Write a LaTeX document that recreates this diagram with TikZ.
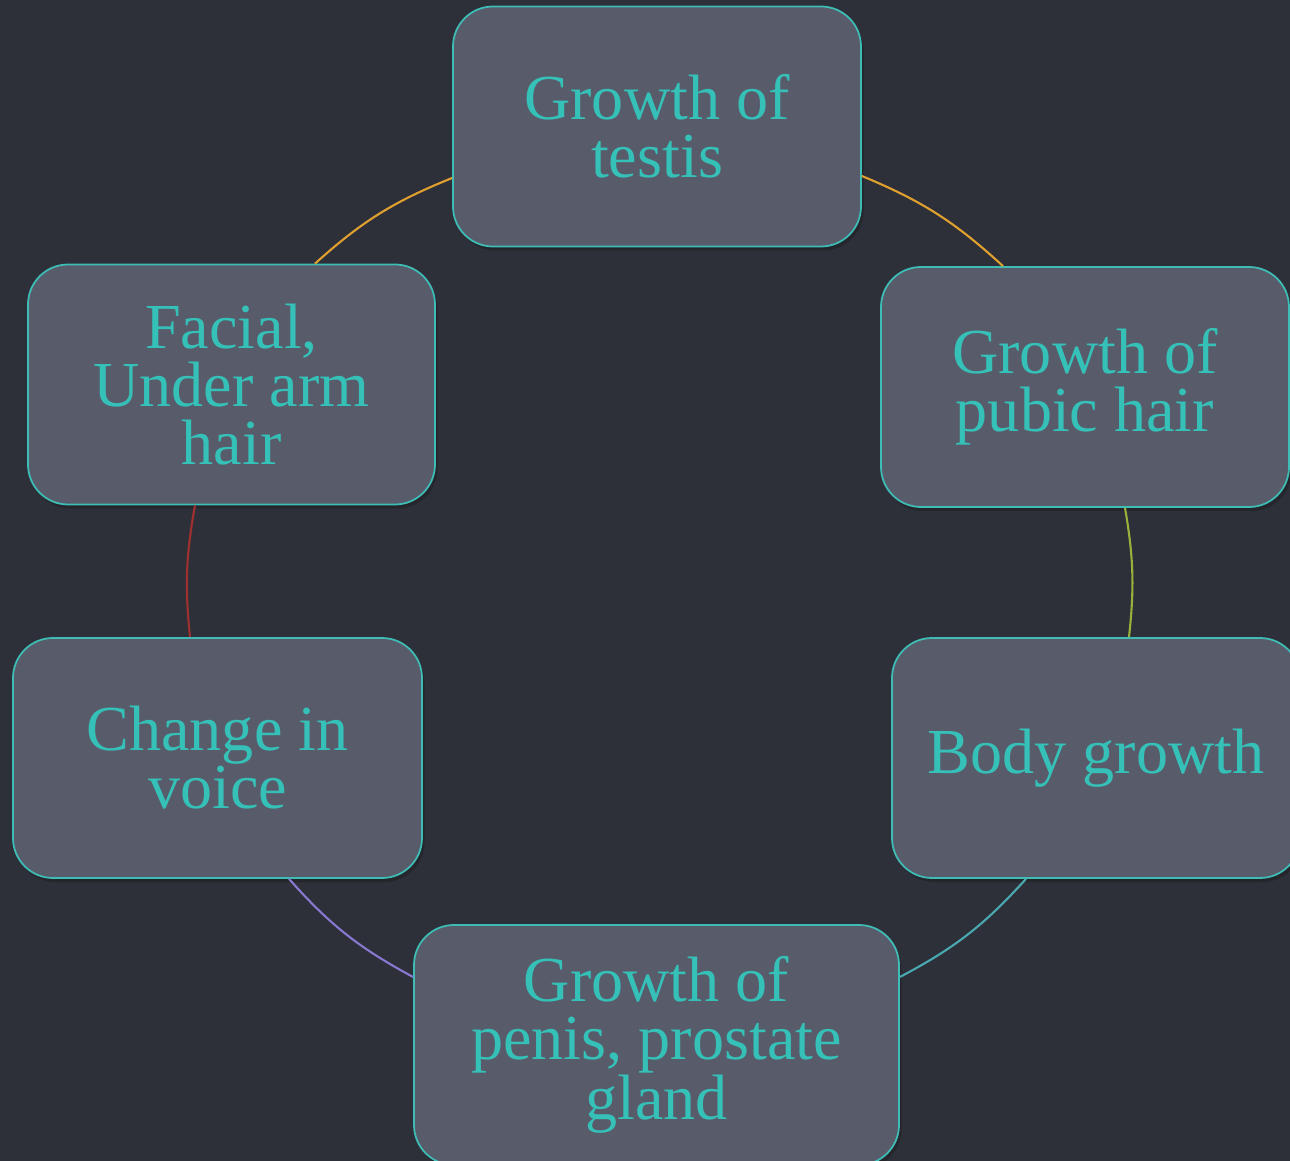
\documentclass[tikz,border=0pt]{standalone}
\usepackage{fontspec}
\setmainfont{Liberation Serif}
\usetikzlibrary{positioning,calc,shadows}

\definecolor{bgdark}{HTML}{2D3038}
\definecolor{boxfill}{HTML}{585B6A}
\definecolor{boxline}{HTML}{3DBDB5}
\definecolor{txtteal}{HTML}{35C0B8}
\definecolor{lnorange}{HTML}{E0A030}
\definecolor{lnolive}{HTML}{9AB03A}
\definecolor{lnteal}{HTML}{4AA8B0}
\definecolor{lnpurple}{HTML}{8878D0}
\definecolor{lnred}{HTML}{A03030}

\begin{document}
\begin{tikzpicture}[
    stage/.style={rectangle,rounded corners=0.8cm,draw=boxline,line width=1pt,
        fill=boxfill,text=txtteal,align=center,minimum width=8.16cm,
        minimum height=4.8cm,font=\fontsize{36.5}{33}\selectfont,
        drop shadow={shadow xshift=0.05cm,shadow yshift=-0.08cm,opacity=0.2,fill=black}},
    link/.style={line width=1.2pt,bend left=10}
]
    \useasboundingbox (0,0) rectangle (25.8,-23.22);
    \fill[bgdark] (0,0) rectangle (25.8,-23.22);

    % Stages round the cycle
    \node[stage] (testis) at (13.14,-2.53) {Growth of\\testis};
    \node[stage] (pubic) at (21.70,-7.74) {Growth of\\pubic hair};
    \node[stage] (body) at (21.92,-15.16) {Body growth};
    \node[stage,minimum width=9.7cm] (gland) at (13.13,-20.90) {Growth of\\penis, prostate\\gland};
    \node[stage,minimum width=8.18cm] (voice) at (4.35,-15.16) {Change in\\voice};
    \node[stage,minimum width=8.14cm] (facial) at (4.63,-7.69) {Facial,\\Under arm\\hair};

    % Connectors
    \draw[link,lnorange] ([yshift=-0.99cm]testis.east) to ([xshift=-1.64cm]pubic.north);
    \draw[link,lnolive,bend left=8] ([xshift=0.8cm]pubic.south) to ([xshift=0.66cm]body.north);
    \draw[link,lnteal] ([xshift=-1.4cm]body.south) to ([yshift=1.36cm]gland.east);
    \draw[link,lnpurple] ([yshift=1.36cm]gland.west) to ([xshift=1.43cm]voice.south);
    \draw[link,lnred,bend left=8] ([xshift=-0.55cm]voice.north) to ([xshift=-0.73cm]facial.south);
    \draw[link,lnorange] ([xshift=1.67cm]facial.north) to ([yshift=-1.03cm]testis.west);
\end{tikzpicture}
\end{document}
